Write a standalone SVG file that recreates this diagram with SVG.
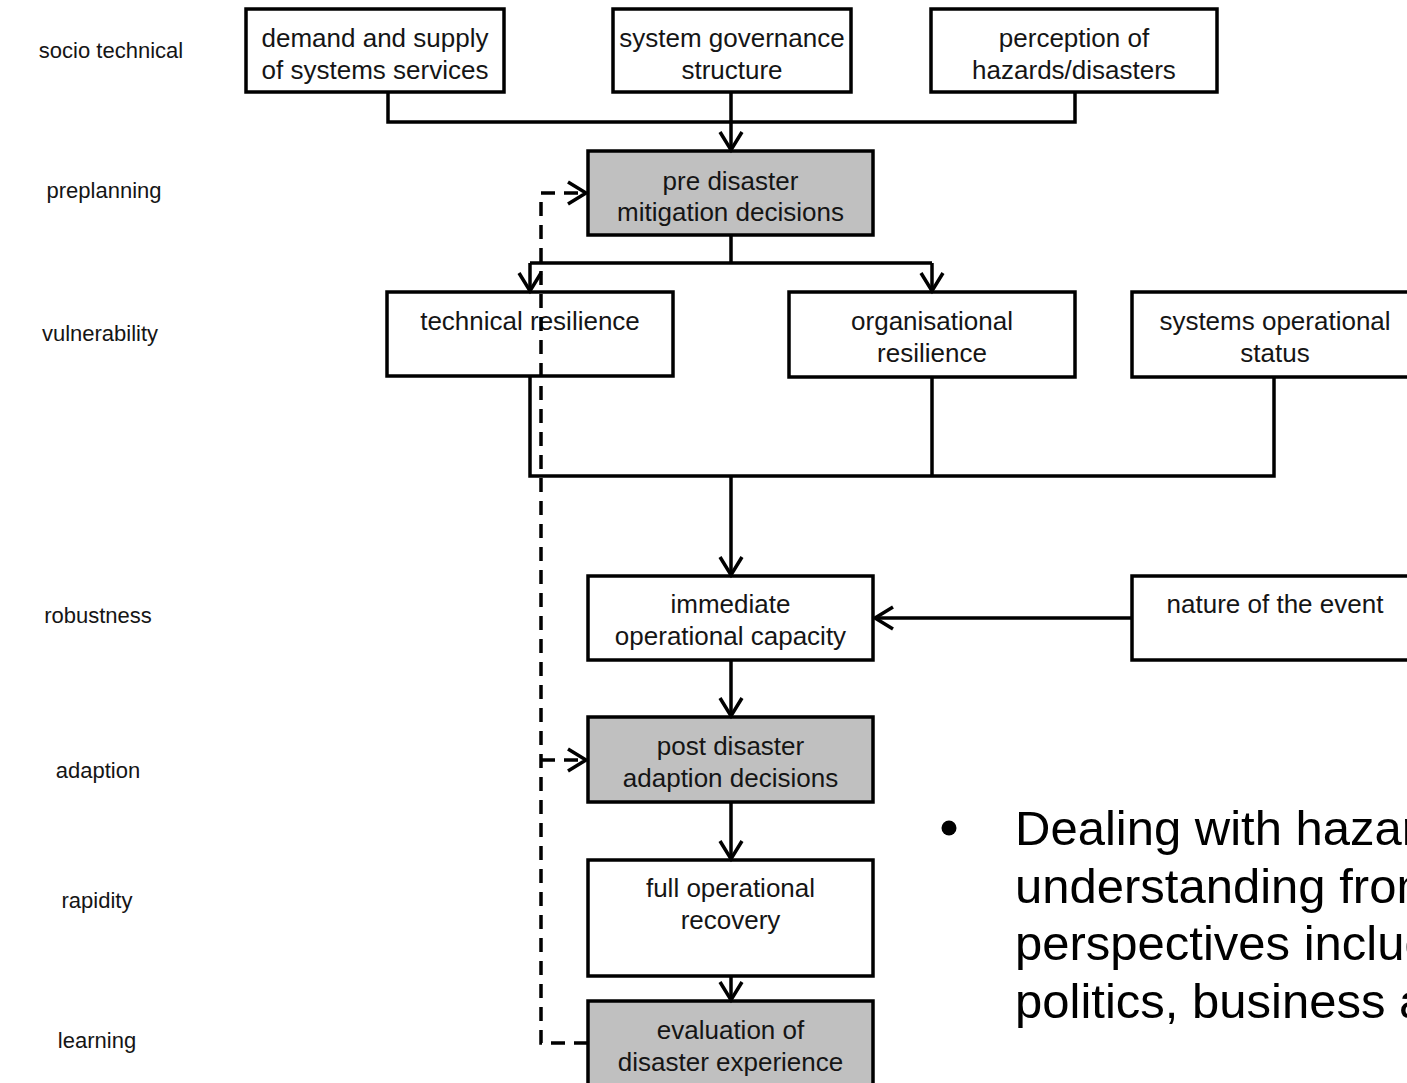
<svg xmlns="http://www.w3.org/2000/svg" width="1407" height="1083" viewBox="0 0 1407 1083">
<style>
.box{fill:#ffffff;stroke:#000;stroke-width:3.5}
.grey{fill:#c0c0c0;stroke:#000;stroke-width:3.5}
.t{font-family:"Liberation Sans",Arial,sans-serif;font-size:26px;fill:#151515;text-anchor:middle}
.lbl{font-family:"Liberation Sans",Arial,sans-serif;font-size:22px;fill:#151515;text-anchor:middle}
.big{font-family:"Liberation Sans",Arial,sans-serif;font-size:49px;fill:#000}
.ln{fill:none;stroke:#000;stroke-width:3.5}
.arr{fill:none;stroke:#000;stroke-width:3.5;marker-end:url(#ah)}
.darr{fill:none;stroke:#000;stroke-width:3.5;stroke-dasharray:14 9;marker-end:url(#ah)}
</style>
<defs>
<marker id="ah" markerUnits="userSpaceOnUse" viewBox="-22 -15 26 30" markerWidth="26" markerHeight="30" refX="0" refY="0" orient="auto">
<path d="M-18,-11 L0,0 L-18,11" fill="none" stroke="#000" stroke-width="3.5"/>
</marker>
</defs>
<rect width="1407" height="1083" fill="#fff"/>
<g id="labels">
<text class="lbl" x="111" y="58">socio technical</text>
<text class="lbl" x="104" y="198">preplanning</text>
<text class="lbl" x="100" y="341">vulnerability</text>
<text class="lbl" x="98" y="623">robustness</text>
<text class="lbl" x="98" y="778">adaption</text>
<text class="lbl" x="97" y="908">rapidity</text>
<text class="lbl" x="97" y="1048">learning</text>
</g>
<g id="n-demand"><rect class="box" x="246" y="9" width="258" height="83"/><text class="t" x="375" y="47">demand and supply</text><text class="t" x="375" y="79">of systems services</text></g>
<g id="n-governance"><rect class="box" x="613" y="9" width="238" height="83"/><text class="t" x="732" y="47">system governance</text><text class="t" x="732" y="79">structure</text></g>
<g id="n-perception"><rect class="box" x="931" y="9" width="286" height="83"/><text class="t" x="1074" y="47">perception of</text><text class="t" x="1074" y="79">hazards/disasters</text></g>
<g id="n-pre"><rect class="grey" x="588" y="151" width="285" height="84"/><text class="t" x="730.5" y="190">pre disaster</text><text class="t" x="730.5" y="221">mitigation decisions</text></g>
<g id="n-technical"><rect class="box" x="387" y="292" width="286" height="84"/><text class="t" x="530" y="330">technical resilience</text></g>
<g id="n-organisational"><rect class="box" x="789" y="292" width="286" height="85"/><text class="t" x="932" y="330">organisational</text><text class="t" x="932" y="362">resilience</text></g>
<g id="n-systems"><rect class="box" x="1132" y="292" width="286" height="85"/><text class="t" x="1275" y="330">systems operational</text><text class="t" x="1275" y="362">status</text></g>
<g id="n-immediate"><rect class="box" x="588" y="576" width="285" height="84"/><text class="t" x="730.5" y="613">immediate</text><text class="t" x="730.5" y="645">operational capacity</text></g>
<g id="n-nature"><rect class="box" x="1132" y="576" width="286" height="84"/><text class="t" x="1275" y="613">nature of the event</text></g>
<g id="n-post"><rect class="grey" x="588" y="717" width="285" height="85"/><text class="t" x="730.5" y="755">post disaster</text><text class="t" x="730.5" y="787">adaption decisions</text></g>
<g id="n-full"><rect class="box" x="588" y="860" width="285" height="116"/><text class="t" x="730.5" y="897">full operational</text><text class="t" x="730.5" y="929">recovery</text></g>
<g id="n-eval"><rect class="grey" x="588" y="1001" width="285" height="86"/><text class="t" x="730.5" y="1039">evaluation of</text><text class="t" x="730.5" y="1071">disaster experience</text></g>
<g id="connectors">
<path class="ln" d="M388,92 V122 H1075 V92 M731,92 V122"/>
<path class="arr" d="M731,122 V150"/>
<path class="ln" d="M731,235 V263 H932 M731,263 H530"/>
<path class="arr" d="M530,263 V291"/>
<path class="arr" d="M932,263 V291"/>
<path class="ln" d="M530,376 V476 H1274 V377 M932,377 V476"/>
<path class="arr" d="M731,476 V575"/>
<path class="arr" d="M1132,618 H875"/>
<path class="arr" d="M731,660 V716"/>
<path class="arr" d="M731,802 V859"/>
<path class="arr" d="M731,976 V1000"/>
<path class="darr" d="M588,1043 H541 V193 H586"/>
<path class="darr" d="M541,760 H586"/>
</g>
<g id="bullet">
<circle cx="949" cy="828" r="7.5" fill="#000"/>
<text class="big" x="1015" y="845">Dealing with hazards</text>
<text class="big" x="1015" y="903">understanding from</text>
<text class="big" x="1015" y="960">perspectives including</text>
<text class="big" x="1015" y="1018">politics, business and</text>
</g>
</svg>
